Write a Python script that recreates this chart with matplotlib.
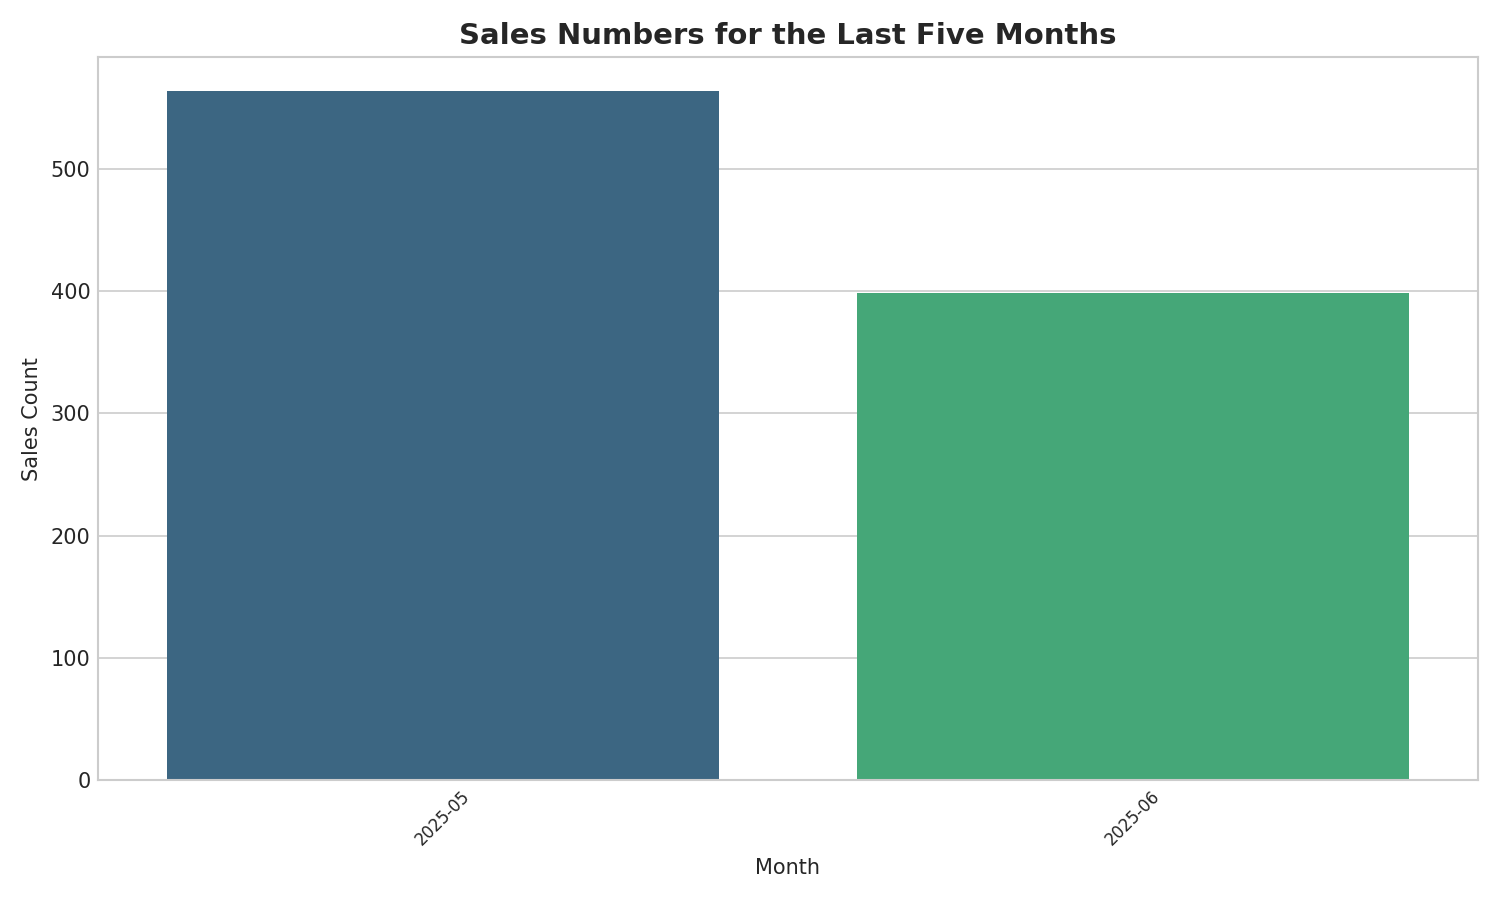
import matplotlib
matplotlib.use("Agg")
import matplotlib.pyplot as plt
import seaborn as sns
import pandas as pd

months = ["2025-05", "2025-06"]
sales = [563, 398]

df = pd.DataFrame({"Month": months, "Sales Count": sales})

plt.style.use("seaborn-v0_8-whitegrid")
plt.rcParams['font.family'] = ['DejaVu Sans']

fig, ax = plt.subplots(figsize=(10, 6), dpi=150)
sns.barplot(data=df, x="Month", y="Sales Count", hue="Month",
            palette="viridis", legend=False, ax=ax)

ax.set_title("Sales Numbers for the Last Five Months", fontsize=14, fontweight="bold")
ax.set_xlabel("Month")
ax.set_ylabel("Sales Count")
plt.xticks(rotation=45, fontsize=8)
plt.tight_layout()
plt.savefig("out.png")
